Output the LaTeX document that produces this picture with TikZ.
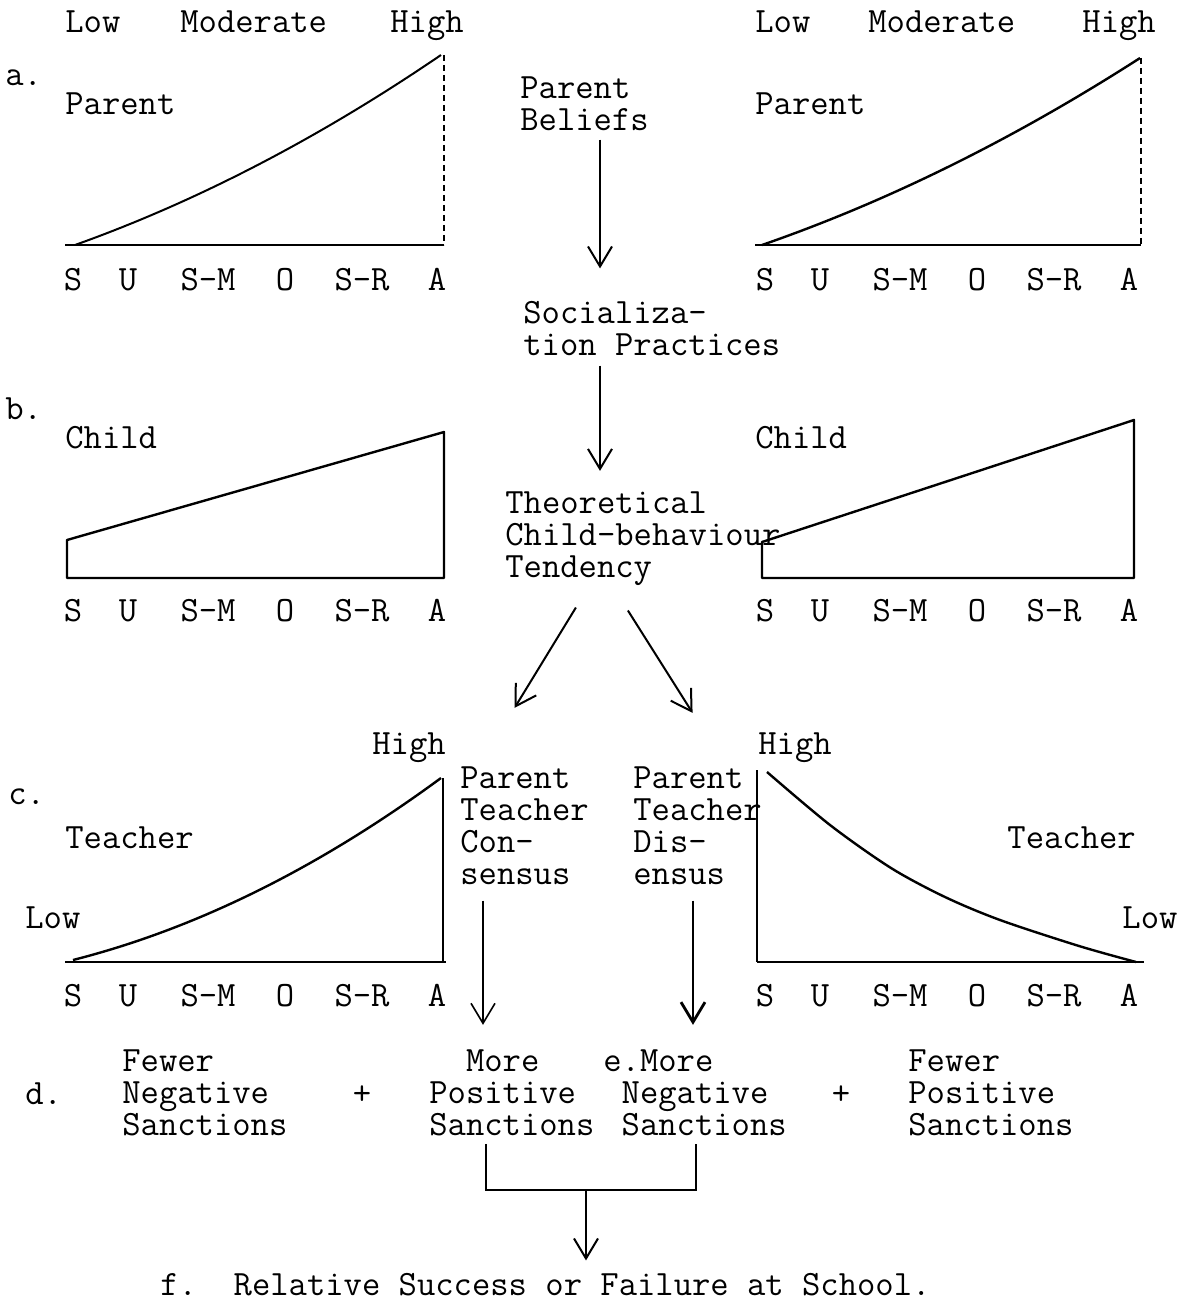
\documentclass[tikz,border=0pt]{standalone}
\usetikzlibrary{arrows.meta,calc}
\tikzset{
	txt/.style={font=\ttfamily\fontsize{17.8}{16}\selectfont, inner sep=0pt, anchor=base west, align=left},
	tick/.style={txt, anchor=base},
	chart/.style={line width=1.2pt, line join=round},
	arr/.style={line width=1pt, -{Straight Barb[length=10pt,width=12pt]}},
}
\begin{document}
\begin{tikzpicture}[x=0.5pt,y=-0.5pt]
	\useasboundingbox (0,0) rectangle (1196,1300);
	% columns of the vertical arrows
	\coordinate (midX) at (600,0);
	\coordinate (conX) at (483,0);
	\coordinate (disX) at (693,0);
	\coordinate (resX) at (586,0);
	% a. parent beliefs
	\node[txt] (lowL) at (65,33) {Low};
	\node[txt] (modL) at (180,33) {Moderate};
	\node[txt] (highL) at (390,33) {High};
	\node[txt] (lowR) at (755,33) {Low};
	\node[txt] (modR) at (868,33) {Moderate};
	\node[txt] (highR) at (1082,33) {High};
	\node[txt] (labA) at (5,86) {a.};
	\node[txt] (parL) at (65,115) {Parent};
	\node[txt] (parR) at (755,115) {Parent};
	\node[txt] (beliefs) at (520,131) {Parent\\Beliefs};
	\node[txt] (social) at (523,355) {Socializa-\\tion Practices};
	\draw[chart] (65,245) -- (444,245);
	\draw[chart, densely dashed, line width=0.7pt] (444,55) -- (444,245);
	\draw[chart, line width=1pt, domain=75:441, samples=40] plot (\x,{245-35.72*(\x-75)/100-4.424*((\x-75)/100)^2});
	\draw[chart] (755,245) -- (1141,245);
	\draw[chart, densely dashed, line width=0.8pt] (1141,58) -- (1141,245);
	\draw[chart, domain=762:1140, samples=40] plot (\x,{245-34.68*(\x-762)/100-3.91*((\x-762)/100)^2});
	% b. child
	\node[txt] (labB) at (5,419) {b.};
	\node[txt] (childL) at (65,448) {Child};
	\node[txt] (childR) at (755,448) {Child};
	\node[txt] (theory) at (505,577) {Theoretical\\Child-behaviour\\Tendency};
	\draw[chart] (67,540) -- (67,578) -- (444,578) -- (444,432) -- cycle;
	\draw[chart] (762,542) -- (762,578) -- (1134,578) -- (1134,420) -- cycle;
	% c. teacher
	\node[txt] (labC) at (8,804) {c.};
	\node[txt] (highCL) at (372,754) {High};
	\node[txt] (highCR) at (758,754) {High};
	\node[txt] (teachL) at (65,848) {Teacher};
	\node[txt] (teachR) at (1007,848) {Teacher};
	\node[txt] (lowCL) at (25,928) {Low};
	\node[txt] (lowCR) at (1122,928) {Low};
	\node[txt] (consensus) at (460,884) {Parent\\Teacher\\Con-\\sensus};
	\node[txt] (disensus) at (633,884) {Parent\\Teacher\\Dis-\\ensus};
	\draw[chart] (65,962) -- (446,962);
	\draw[chart, line width=1pt] (443,778) -- (443,962);
	\draw[chart, domain=73:441, samples=40] plot (\x,{960-25.39*(\x-73)/100-6.54*((\x-73)/100)^2});
	\draw[chart] (757,962) -- (1144,962);
	\draw[chart, line width=1pt] (757,770) -- (757,962);
	\draw[chart] plot[smooth] coordinates {(767,772) (830,825) (891,868) (945,897) (1000,920) (1079,946) (1136,962)};
	% scale under every chart
	\foreach \t/\xx [count=\i] in {S/73,U/128,S-M/208,O/285,S-R/362,A/437}{
		\node[tick] (aL\i) at (\xx,291) {\t};
		\node[tick] (aR\i) at (\xx+692,291) {\t};
		\node[tick] (bL\i) at (\xx,621) {\t};
		\node[tick] (bR\i) at (\xx+692,621) {\t};
		\node[tick] (cL\i) at (\xx,1006) {\t};
		\node[tick] (cR\i) at (\xx+692,1006) {\t};
	}
	% d. and e. sanctions
	\node[txt] (labD) at (25,1104) {d.};
	\node[txt] (fewerNeg) at (122,1135) {Fewer\\Negative\\Sanctions};
	\node[tick] (plusL) at (362,1104) {+};
	\node[txt] (morePos) at (429,1135) {\hphantom{Mo}More\\Positive\\Sanctions};
	\node[txt] (moreNeg) at (603,1135) {e.More\\\hphantom{e}Negative\\\hphantom{e}Sanctions};
	\node[tick] (plusR) at (841,1104) {+};
	\node[txt] (fewerPos) at (908,1135) {Fewer\\Positive\\Sanctions};
	\node[txt] (result) at (160,1295) {f.\ \ Relative Success or Failure at School.};
	% arrows
	\draw[arr, shorten <=4pt, shorten >=16pt] (beliefs.south -| midX) -- (social.north -| midX);
	\draw[arr, shorten <=5pt, shorten >=10pt] (social.south -| midX) -- (theory.north -| midX);
	\draw[arr] ([shift={(-67,22)}]theory.south) -- ([shift={(-10,-58)}]consensus.north);
	\draw[arr] ([shift={(-15,25)}]theory.south) -- ([shift={(-5,-53)}]disensus.north);
	\draw[arr, line width=0.8pt, shorten <=8pt, shorten >=12pt] (consensus.south -| conX) -- (morePos.north -| conX);
	\draw[arr, line width=1.4pt, shorten <=8pt, shorten >=12pt] (disensus.south -| disX) -- (moreNeg.north -| disX);
	\coordinate (brL) at (486,1190);
	\coordinate (brR) at (696,1190);
	\coordinate (brM) at (586,1190);
	\draw[line width=1pt] ([yshift=-4pt]morePos.south -| brL) -- (brL) -- (brR) -- ([yshift=-4pt]moreNeg.south -| brR);
	\draw[arr, shorten >=6pt] (brM) -- (result.north -| brM);
\end{tikzpicture}
\end{document}
